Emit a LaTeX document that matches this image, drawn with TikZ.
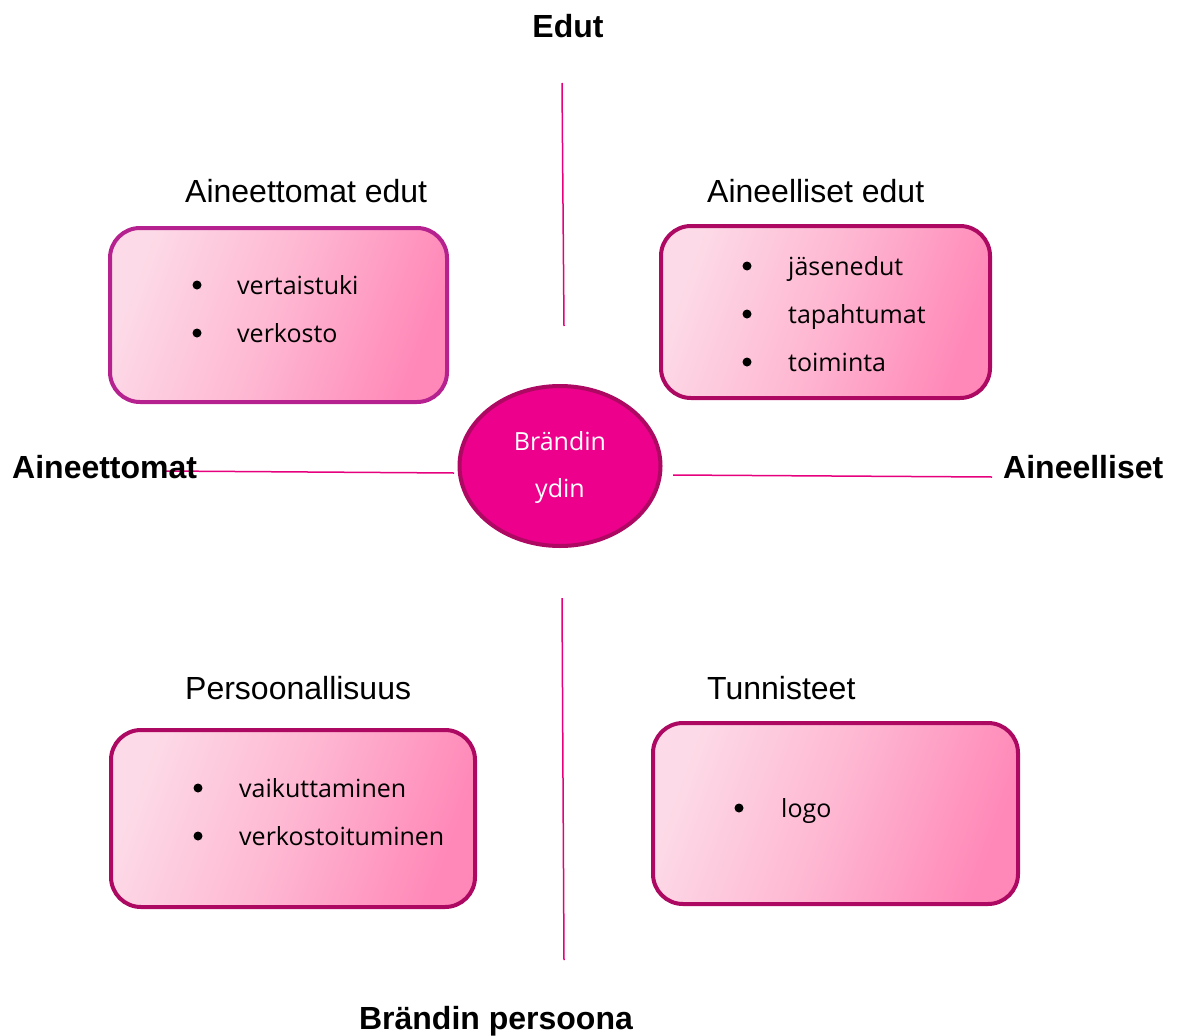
\documentclass[tikz,border=0pt]{standalone}
\usepackage{fontspec}
\setmainfont{Liberation Sans}
\newfontfamily\boxfont{Open Sans}
\usetikzlibrary{shapes.geometric}
\definecolor{linepink}{HTML}{E6007E}
\definecolor{edgeA}{HTML}{B5218E}
\definecolor{edgeB}{HTML}{AD0862}
\definecolor{gradA}{HTML}{FDDAE7}
\definecolor{gradM}{HTML}{FEB6D1}
\definecolor{gradB}{HTML}{FF88B8}
\definecolor{corefill}{HTML}{EC008C}
\tikzset{
  axisline/.style={draw=linepink, line width=1.5pt},
  pinkbox/.style={rounded corners=30pt, line width=4pt, left color=gradA, right color=gradB, middle color=gradM, shading angle=70},
  head/.style={inner sep=0pt, font=\fontsize{32}{38}\selectfont},
  bhead/.style={inner sep=0pt, font=\fontsize{32}{38}\selectfont\bfseries},
  item/.style={inner sep=0pt, anchor=base west, font=\boxfont\fontsize{25}{30}\selectfont},
  dot/.style={circle, fill=black, inner sep=0pt, minimum size=9pt},
  coretext/.style={inner sep=0pt, anchor=base, text=white, font=\boxfont\fontsize{25}{30}\selectfont}
}
\begin{document}
\begin{tikzpicture}[x=1pt, y=-1pt]
\useasboundingbox (0,0) rectangle (1178,1036);
% boxes
\path[pinkbox, draw=edgeA] (110,228) rectangle (447,402);
\path[pinkbox, draw=edgeB] (661,226) rectangle (990,398);
\path[pinkbox, draw=edgeB] (111,730) rectangle (475,907);
\path[pinkbox, draw=edgeB] (653,723) rectangle (1018,904);
% core
\node[ellipse, draw=edgeB, fill=corefill, line width=4pt, minimum width=201pt, minimum height=160pt, inner sep=0pt] (core) at (560,466) {};
\node[coretext] (core1) at (560,450) {Brändin};
\node[coretext] (core2) at (560,497) {ydin};
% axis lines
\coordinate (t1) at (562,83); \coordinate (t2) at (564,326);
\coordinate (b1) at (562,598); \coordinate (b2) at (564,960);
\coordinate (l1) at (163,471); \coordinate (l2) at (454,473);
\coordinate (r1) at (673,475); \coordinate (r2) at (992,477);
\draw[axisline] (t1) -- (t2);
\draw[axisline] (b1) -- (b2);
\draw[axisline] (l1) -- (l2);
\draw[axisline] (r1) -- (r2);
% axis labels
\node[bhead, anchor=base] (edut) at (568,37) {Edut};
\node[bhead, anchor=base] (persoona) at (496,1029) {Brändin persoona};
\node[bhead, anchor=base west] (aineettomat) at (12,478) {Aineettomat};
\node[bhead, anchor=base west] (aineelliset) at (1003,478) {Aineelliset};
% quadrant titles
\node[head, anchor=base west] (q1) at (185,202) {Aineettomat edut};
\node[head, anchor=base west] (q2) at (707,202) {Aineelliset edut};
\node[head, anchor=base west] (q3) at (185,699) {Persoonallisuus};
\node[head, anchor=base west] (q4) at (707,699) {Tunnisteet};
% items
\node[dot] (d11) at (197,285) {}; \node[item] (i11) at (237,294) {vertaistuki};
\node[dot] (d12) at (197,333) {}; \node[item] (i12) at (237,342) {verkosto};
\node[dot] (d21) at (747,266) {}; \node[item] (i21) at (788,275) {jäsenedut};
\node[dot] (d22) at (747,314) {}; \node[item] (i22) at (788,323) {tapahtumat};
\node[dot] (d23) at (747,362) {}; \node[item] (i23) at (788,371) {toiminta};
\node[dot] (d31) at (198,788) {}; \node[item] (i31) at (239,797) {vaikuttaminen};
\node[dot] (d32) at (198,836) {}; \node[item] (i32) at (239,845) {verkostoituminen};
\node[dot] (d41) at (739,808) {}; \node[item] (i41) at (781,817) {logo};
\end{tikzpicture}
\end{document}
